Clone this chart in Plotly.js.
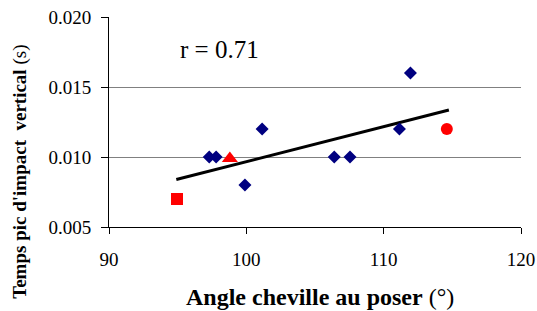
<!DOCTYPE html>
<html>
<head>
<meta charset="utf-8">
<script src="https://cdn.plot.ly/plotly-3.0.1.min.js"></script>
<style>html,body{margin:0;padding:0;background:#fff;}#chart{width:537px;height:311px;}</style>
</head>
<body>
<div id="chart"></div>
<script>
// Blue diamonds
const diamondX = [97.3, 97.8, 99.9, 101.15, 106.4, 107.55, 111.15, 111.95];
const diamondY = [0.010, 0.010, 0.008, 0.012, 0.010, 0.010, 0.012, 0.016];
// Red markers
const squareX = [94.95];
const squareY = [0.007];
const triangleX = [98.8];
const triangleY = [0.0099];
const circleX = [114.6];
const circleY = [0.012];
// Trend line end points
const trendX = [94.9, 114.75];
const trendY = [0.00839, 0.01336];
const xTicks = [90, 100, 110, 120];
const yTicks = [0.005, 0.010, 0.015, 0.020];
const yTickText = ['0.005', '0.010', '0.015', '0.020'];

const FONT = 'Liberation Serif, Times New Roman, serif';

const traces = [
  {x: trendX, y: trendY, mode: 'lines', line: {color: '#000000', width: 3}, hoverinfo: 'skip'},
  {x: diamondX, y: diamondY, mode: 'markers', marker: {symbol: 'diamond', size: 10, color: '#000080'}},
  {x: squareX, y: squareY, mode: 'markers', marker: {symbol: 'square', size: 12, color: '#FF0000'}},
  {x: triangleX, y: triangleY, mode: 'markers', marker: {symbol: 'triangle-up', size: 14, color: '#FF0000'}},
  {x: circleX, y: circleY, mode: 'markers', marker: {symbol: 'circle', size: 12, color: '#FF0000'}}
];

const layout = {
  width: 537, height: 311,
  margin: {l: 109, r: 16, t: 17, b: 84},
  paper_bgcolor: '#ffffff', plot_bgcolor: '#ffffff',
  showlegend: false,
  font: {family: FONT, size: 19, color: '#000'},
  xaxis: {
    range: [90, 120], tickmode: 'array', tickvals: xTicks, ticktext: xTicks.map(String),
    showgrid: false, zeroline: false, showline: true, linecolor: '#000', linewidth: 1,
    ticks: 'outside', ticklen: 6, tickcolor: '#000', tickwidth: 1,
    tickfont: {family: FONT, size: 19, color: '#000'}, ticklabelstandoff: 9
  },
  yaxis: {
    range: [0.005, 0.020], tickmode: 'array', tickvals: yTicks, ticktext: yTickText,
    showgrid: true, gridcolor: '#808080', gridwidth: 1, zeroline: false,
    showline: true, linecolor: '#000', linewidth: 1,
    ticks: 'outside', ticklen: 7, tickcolor: '#000', tickwidth: 1,
    tickfont: {family: FONT, size: 19, color: '#000'}, ticklabelstandoff: 6
  },
  annotations: [
    {text: 'r = 0.71', xref: 'paper', yref: 'paper', x: 0.269, y: 0.843, xanchor: 'center', yanchor: 'middle',
     showarrow: false, font: {family: FONT, size: 25, color: '#000'}},
    {text: '<b>Angle cheville au poser</b> (°)', xref: 'paper', yref: 'paper', x: 0.511, y: -0.333,
     xanchor: 'center', yanchor: 'middle', showarrow: false, font: {family: FONT, size: 24, color: '#000'}},
    {text: '<b>Temps pic d\'impact  vertical</b> (s)', xref: 'paper', yref: 'paper', x: -0.2166, y: 0.262,
     xanchor: 'center', yanchor: 'middle', textangle: -90, showarrow: false, font: {family: FONT, size: 19, color: '#000'}}
  ]
};

Plotly.newPlot('chart', traces, layout, {displayModeBar: false, staticPlot: true});
</script>
</body>
</html>
